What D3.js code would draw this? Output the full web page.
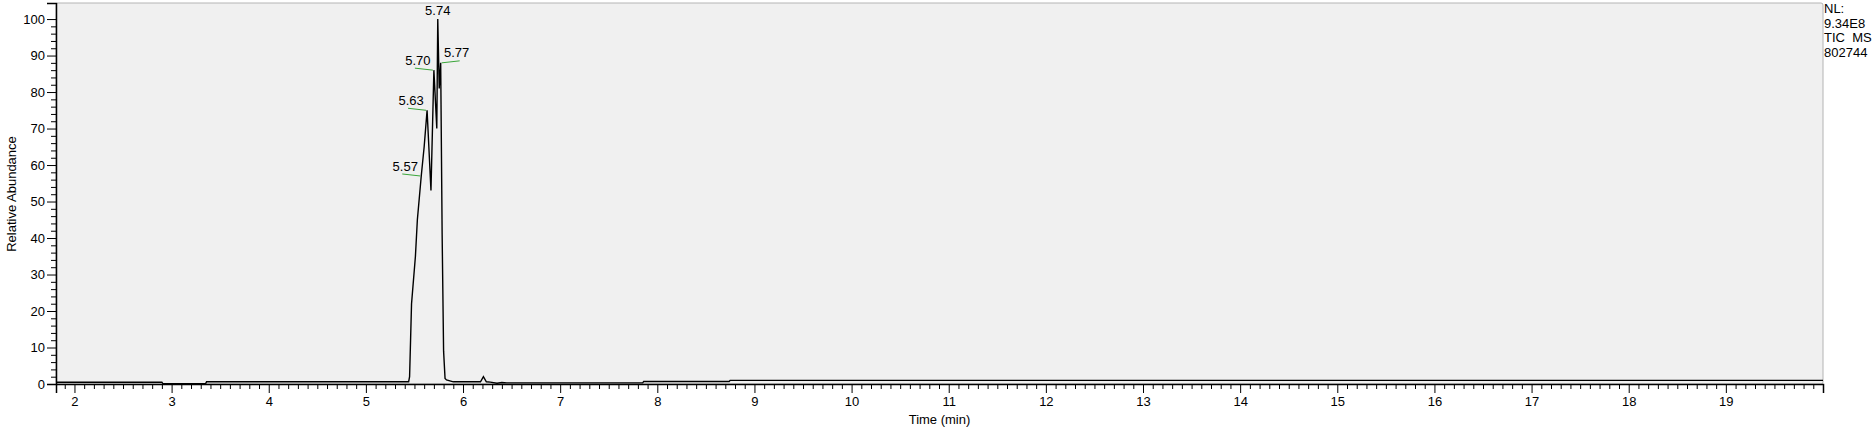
<!DOCTYPE html>
<html><head><meta charset="utf-8">
<script src="https://cdn.jsdelivr.net/npm/d3@7"></script>
<style>body{margin:0;background:#fff}svg{display:block}text{font-family:"Liberation Sans",Arial,sans-serif;font-size:13px;fill:#000}</style>
</head><body><svg id="c" width="1873" height="436"></svg>
<script>
const times = [1.81,2.9,2.91,3.35,3.36,5.44,5.45,5.46,5.47,5.51,5.53,5.57,5.60,5.63,5.67,5.70,5.73,5.74,5.755,5.77,5.785,5.80,5.815,5.83,5.9,6.18,6.21,6.24,6.28,6.35,6.4,6.45,7.85,7.86,8.74,8.75,20.0];
const abund = [0.5,0.5,0.1,0.1,0.6,0.6,2,12,22,35,45,57,65,75,53,86,70,100,81,88,41,9,1.5,1.1,0.6,0.6,2,0.6,0.5,0.2,0.4,0.3,0.3,0.7,0.7,1.0,1.0];
const peakTimes = [5.57,5.63,5.70,5.74,5.77];
const peakVals = [57,75,86,100,88];
const peakSide = ["left","left","left","top","right"];
const xTicks = d3.range(2,20);
const yTicks = d3.range(0,101,10);
const nlText = ["NL:","9.34E8","TIC\u00a0\u00a0MS","802744"];

const svg = d3.select("#c");
const L=56,R=1823,T=3,B=384;
const x = d3.scaleLinear().domain([1.81,20.0]).range([L,R]);
const y = d3.scaleLinear().domain([0,104.4]).range([B,T]);
svg.append("rect").attr("x",L).attr("y",T).attr("width",R-L).attr("height",B-T)
  .attr("fill","#f0f0f0").attr("stroke","#b4b4b4").attr("rx",2);
svg.append("g").attr("transform",`translate(0,${B})`)
  .call(d3.axisBottom(x).tickValues(xTicks).tickFormat(d3.format("d")).tickSize(9).tickPadding(4));
svg.append("g").attr("transform",`translate(0,${B})`)
  .call(d3.axisBottom(x).tickValues(d3.range(1.9,20.0,0.1).filter(v=>Math.abs(v-Math.round(v))>0.01)).tickFormat("").tickSize(5))
  .call(g=>g.select(".domain").remove());
svg.append("g").attr("transform",`translate(${L},0)`)
  .call(d3.axisLeft(y).tickValues(yTicks).tickSize(9).tickPadding(2));
svg.append("g").attr("transform",`translate(${L},0)`)
  .call(d3.axisLeft(y).tickValues(d3.range(2,101,2).filter(v=>v%10)).tickFormat("").tickSize(5))
  .call(g=>g.select(".domain").remove());
svg.selectAll(".tick text").style("font-size","13px").style("font-family","Liberation Sans, Arial");
svg.selectAll(".domain").attr("stroke","#000").attr("stroke-width",1.5);
svg.selectAll("g.tick line").attr("stroke","#000");
svg.append("path").datum(times.map((t,i)=>[t,abund[i]]))
  .attr("d",d3.line().x(d=>x(d[0])).y(d=>y(d[1])))
  .attr("fill","none").attr("stroke","#000").attr("stroke-width",1.4);
peakTimes.forEach((t,i)=>{
  const px=x(t), py=y(peakVals[i]);
  if(peakSide[i]==="top"){
    svg.append("text").attr("x",px).attr("y",py-4).attr("text-anchor","middle").text(t.toFixed(2));
  } else if(peakSide[i]==="left"){
    svg.append("line").attr("x1",px-19).attr("y1",py-2).attr("x2",px-1).attr("y2",py).attr("stroke","#3aa63a");
    svg.append("text").attr("x",px-16).attr("y",py-5).attr("text-anchor","middle").text(t.toFixed(2));
  } else {
    svg.append("line").attr("x1",px+1).attr("y1",py).attr("x2",px+19).attr("y2",py-2).attr("stroke","#3aa63a");
    svg.append("text").attr("x",px+16).attr("y",py-6).attr("text-anchor","middle").text(t.toFixed(2));
  }
});
svg.append("text").attr("transform","translate(16,194) rotate(-90)").attr("text-anchor","middle").text("Relative Abundance");
svg.append("text").attr("x",(L+R)/2).attr("y",424).attr("text-anchor","middle").text("Time (min)");
nlText.forEach((s,i)=>svg.append("text").attr("x",1824).attr("y",13+i*14.5).text(s));
</script></body></html>
